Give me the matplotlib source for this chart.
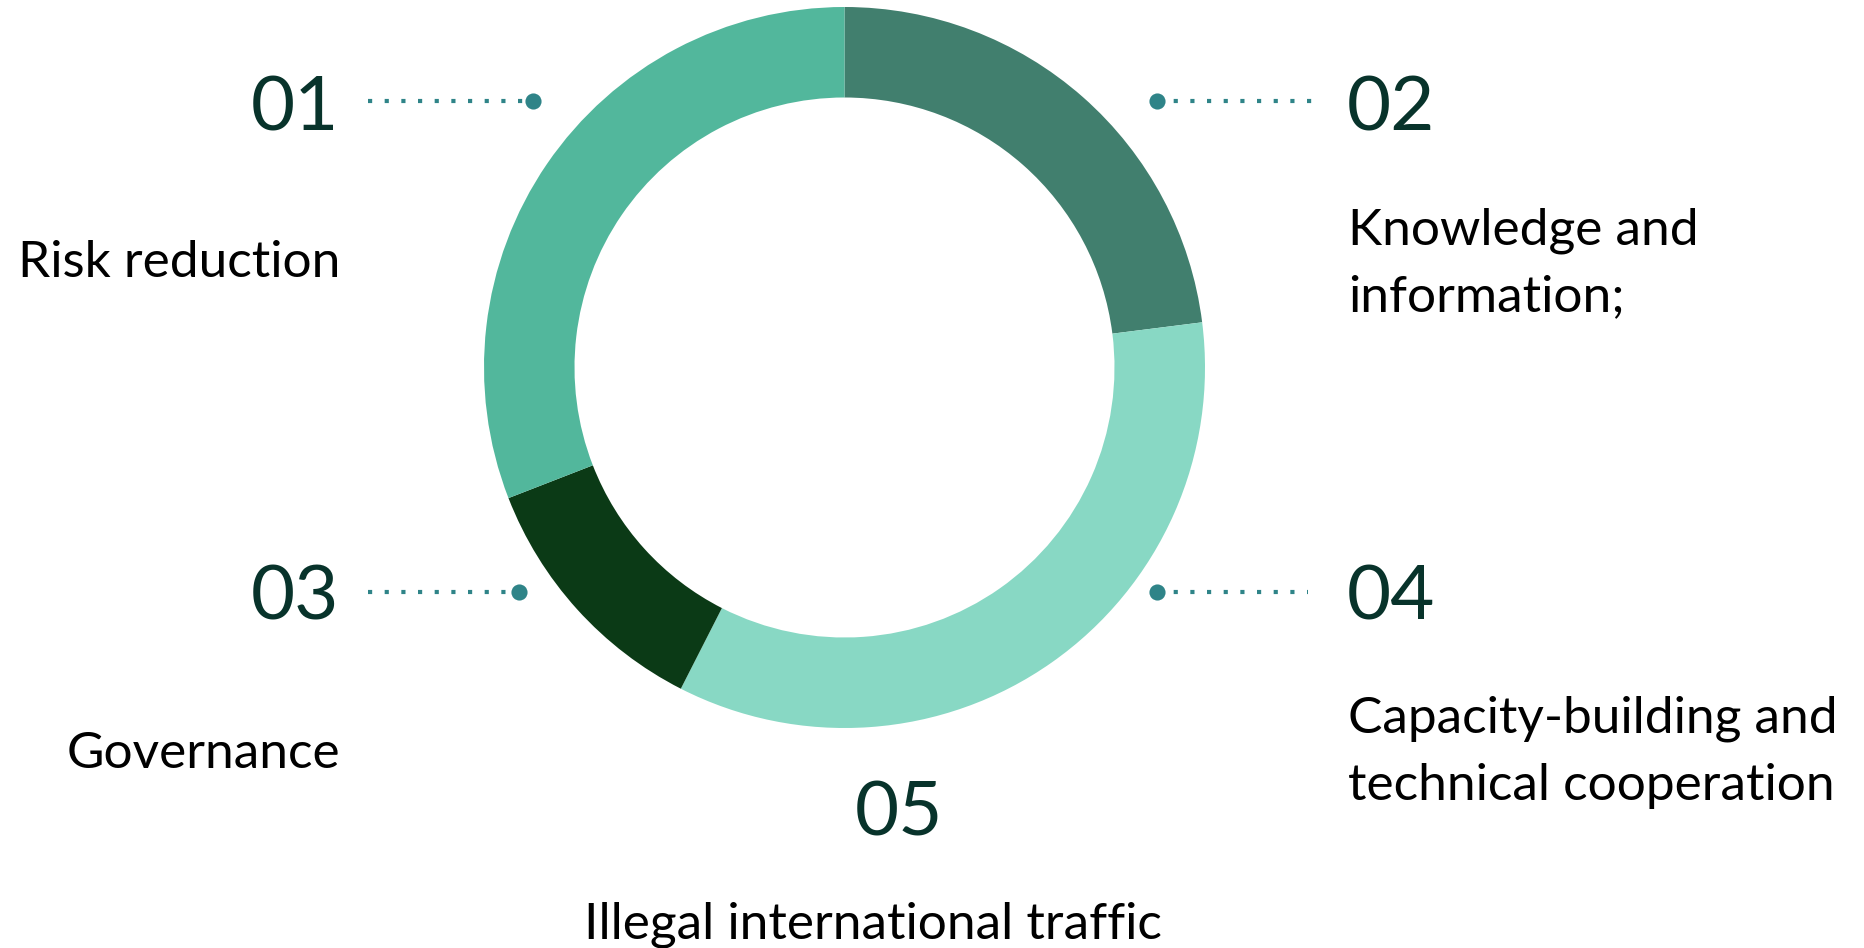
import matplotlib
matplotlib.use("Agg")
import matplotlib.pyplot as plt

# segments, clockwise from 12 o'clock
seg_ids = ["02", "04", "03", "01"]
seg_shares = [23.0, 34.5, 11.6, 30.9]
seg_colors = ["#417f6e", "#88d8c4", "#0b3a16", "#52b79c"]

num_labels = ["01", "02", "03", "04", "05"]
text_labels = [
    ["Risk reduction"],
    ["Knowledge and", "information;"],
    ["Governance"],
    ["Capacity-building and", "technical cooperation"],
    ["Illegal international traffic"],
]

W, H = 1864, 948
fig = plt.figure(figsize=(W / 100, H / 100), dpi=100)
ax = fig.add_axes([0, 0, 1, 1])

cx, cy = 844.5, H - 367.5
r_out, r_in = 360.5, 270

ax.pie(seg_shares, colors=seg_colors, startangle=90, counterclock=False,
       radius=r_out, center=(cx, cy),
       wedgeprops=dict(width=r_out - r_in, linewidth=0))

ax.set_xlim(0, W)
ax.set_ylim(0, H)
ax.set_aspect("equal")
ax.axis("off")

font = "Lato"
num_color = "#08332b"
dot_color = "#2f8488"

# dotted leaders: (x_start, x_end, y, dot at x)
leaders = [
    (368, 533, 101, 533),
    (1157, 1314, 101, 1157),
    (368, 519, 592, 519),
    (1157, 1308, 592, 1157),
]
for x0, x1, y, xd in leaders:
    ax.plot([x0, x1], [H - y, H - y], color=dot_color, lw=3,
            linestyle=(0, (1, 3)), dash_capstyle="butt")
    ax.scatter([xd], [H - y], s=135, color=dot_color, zorder=3, linewidths=0)

num_size = 55
lab_size = 37
line_gap = 67

# (x, align, number baseline, first label baseline)
spots = [
    (339, "right", 130, 277),
    (1347, "left", 130, 244),
    (339, "right", 619, 768),
    (1347, "left", 619, 733),
]
for i, (x, ha, yn, yl) in enumerate(spots):
    ax.text(x, H - yn, num_labels[i], ha=ha, va="baseline",
            fontsize=num_size, color=num_color, family=font)
    for j, line in enumerate(text_labels[i]):
        ax.text(x + (1 if ha == "right" else 1), H - (yl + j * line_gap), line,
                ha=ha, va="baseline", fontsize=lab_size, color="black",
                family=font)

# bottom
ax.text(899, H - 836, num_labels[4], ha="center", va="baseline",
        fontsize=num_size, color=num_color, family=font)
ax.text(873, H - 939, text_labels[4][0], ha="center", va="baseline",
        fontsize=lab_size, color="black", family=font)

fig.savefig("out.png", dpi=100)
